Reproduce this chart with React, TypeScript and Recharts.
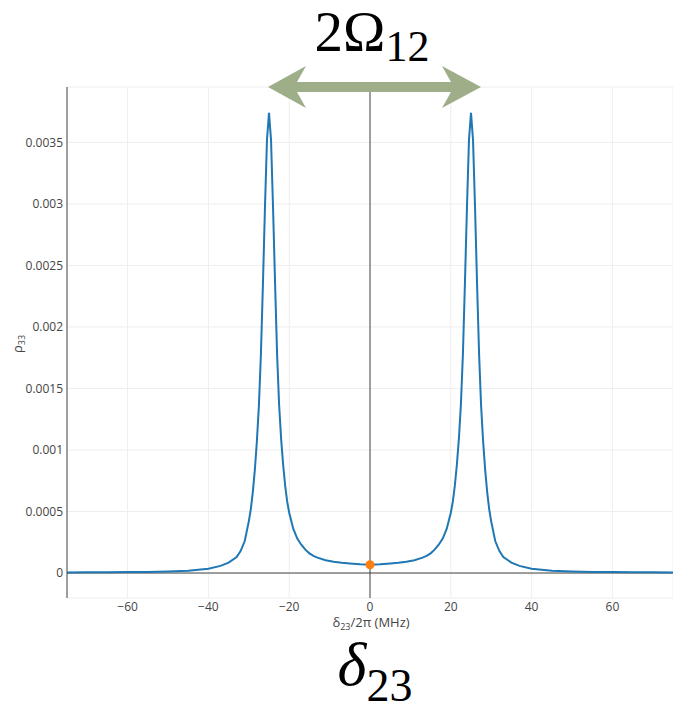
import {
  ComposedChart,
  Line,
  Scatter,
  XAxis,
  YAxis,
  CartesianGrid,
  ReferenceLine,
} from "recharts";

// detuning δ23/2π in MHz
const detuning = [
  -75, -70, -65, -60, -55, -50, -45, -40, -37, -35, -33, -32, -31, -30,
  -29.5, -29, -28.5, -28, -27.5, -27, -26.5, -26, -25.5, -25,
  -24.5, -24, -23.5, -23, -22.5, -22, -21.5, -21, -20.5, -20,
  -19, -18, -17, -16, -15, -14, -13, -11, -9, -7, -5, -2.5, 0,
  2.5, 5, 7, 9, 11, 13, 14, 15, 16, 17, 18, 19, 20,
  20.5, 21, 21.5, 22, 22.5, 23, 23.5, 24, 24.5, 25,
  25.5, 26, 26.5, 27, 27.5, 28, 28.5, 29, 29.5, 30,
  31, 32, 33, 35, 37, 40, 45, 50, 55, 60, 65, 70, 75,
];

// ρ33 population
const rho33 = [
  0.000005, 0.000006, 0.000007, 0.000008, 0.000009, 0.000012, 0.000018, 0.000034,
  0.000058, 0.000085, 0.00013, 0.00018, 0.00026, 0.00042,
  0.00052, 0.00066, 0.00084, 0.00107, 0.00136, 0.00178, 0.00235, 0.00297, 0.00352, 0.00374,
  0.00352, 0.00297, 0.00236, 0.00178, 0.00137, 0.00109, 0.00088, 0.00071, 0.00058, 0.00049,
  0.00036, 0.00028, 0.00023, 0.00019, 0.00016, 0.00014, 0.000125, 0.000104, 0.000092,
  0.000083, 0.000077, 0.000071, 0.000067,
  0.000071, 0.000077, 0.000083, 0.000092, 0.000104, 0.000125, 0.00014, 0.00016, 0.00019,
  0.00023, 0.00028, 0.00036, 0.00049,
  0.00058, 0.00071, 0.00088, 0.00109, 0.00137, 0.00178, 0.00236, 0.00297, 0.00352, 0.00374,
  0.00352, 0.00297, 0.00235, 0.00178, 0.00136, 0.00107, 0.00084, 0.00066, 0.00052, 0.00042,
  0.00026, 0.00018, 0.00013, 0.000085, 0.000058, 0.000034, 0.000018, 0.000012, 0.000009,
  0.000008, 0.000007, 0.000006, 0.000005,
];

const marker = [{ x: 0, y: 0.000067 }];

const xTicks = [-60, -40, -20, 0, 20, 40, 60];
const yTicks = [0, 0.0005, 0.001, 0.0015, 0.002, 0.0025, 0.003, 0.0035];

const curve = detuning.map((x, i) => ({ x, y: rho33[i] }));

const fmtX = (v: number) => (v < 0 ? `\u2212${-v}` : `${v}`);
const font = "'Open Sans', sans-serif";

export default function App() {
  return (
    <div
      style={{
        position: "absolute",
        left: 0,
        top: 0,
        width: 673,
        height: 709,
        background: "#fff",
      }}
    >
      <ComposedChart
        width={673}
        height={709}
        margin={{ top: 87, right: 0, bottom: 0, left: 0 }}
      >
        <CartesianGrid stroke="#eee" />
        <XAxis
          type="number"
          dataKey="x"
          domain={[-75, 75]}
          ticks={xTicks}
          tickFormatter={fmtX}
          allowDataOverflow
          axisLine={false}
          tickLine={false}
          tickSize={0}
          tickMargin={4}
          height={111}
          tick={{ fill: "#444", fontSize: 12, fontFamily: font }}
        />
        <YAxis
          type="number"
          dataKey="y"
          domain={[-0.000203, 0.00395]}
          ticks={yTicks}
          allowDataOverflow
          width={67}
          axisLine={{ stroke: "#444" }}
          tickLine={false}
          tickSize={0}
          tickMargin={4}
          tick={{ fill: "#444", fontSize: 12, fontFamily: font }}
        />
        <ReferenceLine y={0} stroke="#444" strokeWidth={1} />
        <ReferenceLine x={0} stroke="#444" strokeWidth={1} />
        <Line
          data={curve}
          dataKey="y"
          type="linear"
          stroke="#1f77b4"
          strokeWidth={2}
          dot={false}
          isAnimationActive={false}
        />
        <Scatter
          data={marker}
          dataKey="y"
          fill="#ff7f0e"
          isAnimationActive={false}
        />
      </ComposedChart>

      <svg
        width={673}
        height={709}
        style={{ position: "absolute", left: 0, top: 0, pointerEvents: "none" }}
      >
        {/* double arrow for 2Ω12 splitting */}
        <polygon
          points="268,87 306,66 297,82 451,82 442,66 481,87 442,108 451,92 297,92 306,108"
          fill="#9dae88"
        />
        <text
          x={372}
          y={51}
          textAnchor="middle"
          fontFamily="'Liberation Serif', serif"
          fontSize={57}
          fill="#000"
        >
          2Ω
          <tspan fontSize={44} dy={10}>
            12
          </tspan>
        </text>
        <text
          x={375}
          y={685}
          textAnchor="middle"
          fontFamily="'Liberation Serif', serif"
          fontSize={62}
          fill="#000"
        >
          <tspan fontStyle="italic">δ</tspan>
          <tspan fontSize={46} dy={16}>
            23
          </tspan>
        </text>

        {/* axis titles */}
        <text
          x={371}
          y={627}
          textAnchor="middle"
          fontFamily={font}
          fontSize={13}
          fill="#444"
        >
          δ
          <tspan fontSize={9} dy={3}>
            23
          </tspan>
          <tspan dy={-3}>/2π (MHz)</tspan>
        </text>
        <text
          transform="translate(22,344) rotate(-90)"
          textAnchor="middle"
          fontFamily={font}
          fontSize={13}
          fill="#444"
        >
          ρ
          <tspan fontSize={9} dy={3}>
            33
          </tspan>
        </text>
      </svg>
    </div>
  );
}
